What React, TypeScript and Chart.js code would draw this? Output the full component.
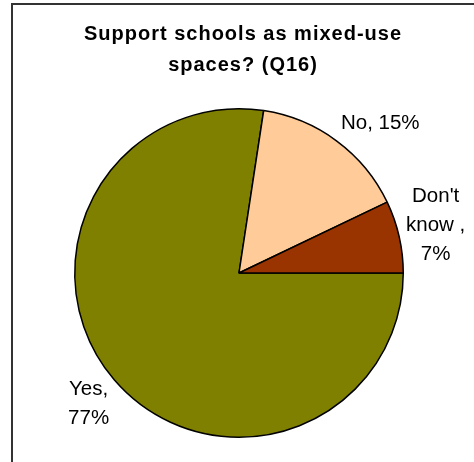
import React, { useEffect, useRef } from "react";
import { Chart, registerables } from "chart.js";

Chart.register(...registerables);

const categories = ["Yes", "No", "Don't know"];
const values = [77.4, 15.5, 7.1];
const percentLabels = ["77%", "15%", "7%"];
const labelLines = [["Yes,", "77%"], ["No, 15%"], ["Don't", "know ,", "7%"]];
const colors = ["#808000", "#FFCC99", "#993300"];
const titleLines = ["Support schools as mixed-use", "spaces? (Q16)"];

const labelPlugin = {
  id: "customLabels",
  afterDraw(chart: any) {
    const ctx = chart.ctx as CanvasRenderingContext2D;
    ctx.save();
    // title
    ctx.fillStyle = "#000";
    ctx.font = 'bold 20px "Liberation Sans", Arial, sans-serif';
    (ctx as any).letterSpacing = "1px";
    ctx.textAlign = "center";
    ctx.textBaseline = "alphabetic";
    titleLines.forEach((t, i) => {
      ctx.fillText(t, 243, 40 + i * 31);
    });
    (ctx as any).letterSpacing = "0px";

    // slice labels
    const meta = chart.getDatasetMeta(0);
    ctx.font = '20.5px "Liberation Sans", Arial, sans-serif';
    const lineH = 29;
    meta.data.forEach((arc: any, i: number) => {
      const p = arc.getProps(["x", "y", "startAngle", "endAngle", "outerRadius"], true);
      const mid = (p.startAngle + p.endAngle) / 2;
      const r = p.outerRadius + 7;
      const px = p.x + Math.cos(mid) * r;
      const py = p.y + Math.sin(mid) * r;
      const lines = labelLines[i];
      const w = Math.max(...lines.map((l) => ctx.measureText(l).width));
      const h = lines.length * lineH;
      const cx = px + Math.sign(Math.cos(mid)) * w / 2;
      const cy = py + Math.sin(mid) * h / 2;
      ctx.textAlign = "center";
      ctx.textBaseline = "middle";
      lines.forEach((l, j) => {
        ctx.fillText(l, cx, cy - h / 2 + lineH / 2 + j * lineH);
      });
    });
    ctx.restore();
  },
};

export default function App() {
  const ref = useRef<HTMLCanvasElement>(null);
  useEffect(() => {
    if (!ref.current) return;
    const chart = new Chart(ref.current, {
      type: "pie",
      data: {
        labels: categories.map((c, i) => `${c}, ${percentLabels[i]}`),
        datasets: [
          {
            data: values,
            backgroundColor: colors,
            borderColor: "#000",
            borderWidth: 1.5,
          },
        ],
      },
      options: {
        responsive: false,
        animation: false,
        devicePixelRatio: 1,
        rotation: 90,
        layout: { padding: { left: 74, right: 70, top: 108, bottom: 24 } },
        plugins: {
          legend: { display: false },
          title: { display: false },
          tooltip: { enabled: false },
        },
      },
      plugins: [labelPlugin],
    });
    return () => chart.destroy();
  }, []);
  return (
    <div
      style={{
        position: "fixed",
        left: 0,
        top: 0,
        width: 474,
        height: 462,
        overflow: "hidden",
        background: "#fff",
      }}
    >
      <div
        style={{
          position: "absolute",
          left: 11,
          top: 3,
          width: 600,
          height: 600,
          borderLeft: "2px solid #333",
          borderTop: "2px solid #333",
        }}
      />
      <canvas
        ref={ref}
        width={474}
        height={462}
        style={{ position: "absolute", left: 0, top: 0, width: 474, height: 462 }}
      />
    </div>
  );
}
